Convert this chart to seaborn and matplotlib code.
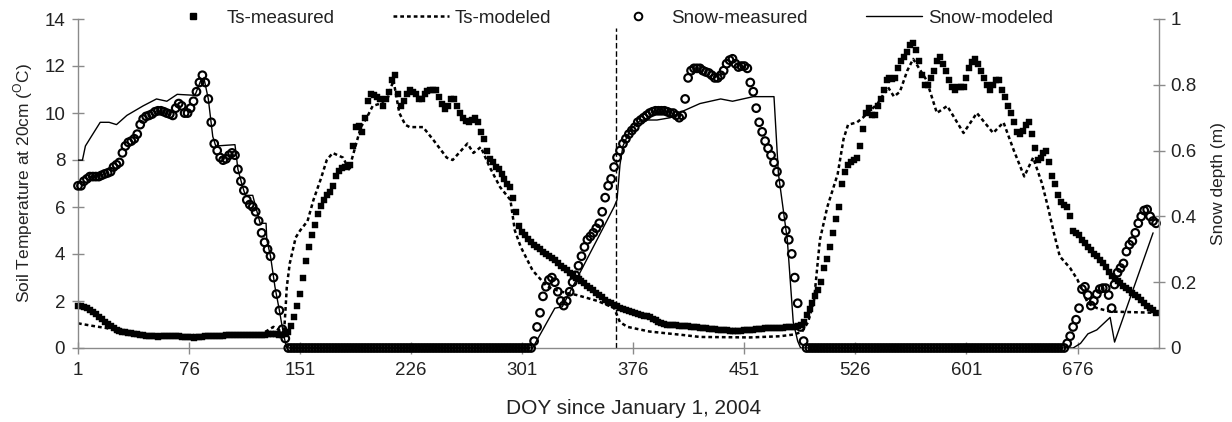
import numpy as np
import pandas as pd
import matplotlib
matplotlib.use("Agg")
import matplotlib.pyplot as plt
from matplotlib.lines import Line2D
from matplotlib import ticker
import seaborn as sns

sns.set_style("white")
plt.rcParams['font.family'] = ['Liberation Sans', 'DejaVu Sans']
plt.rcParams['mathtext.fontset'] = 'custom'
plt.rcParams['mathtext.rm'] = 'Liberation Sans'

# ---------------- data ----------------
# measured series: sampled every 2 days, DOY 1 ... 729
doy_measured = list(range(1, 730, 2))

ts_measured = [  # soil temperature at 20 cm, degC
    1.80, 1.77, 1.74, 1.70, 1.63, 1.55, 1.45, 1.33, 1.22, 1.12,
    1.03, 0.94, 0.86, 0.78, 0.72, 0.68, 0.66, 0.64, 0.63, 0.61,
    0.59, 0.57, 0.55, 0.53, 0.50, 0.49, 0.49, 0.48, 0.49, 0.51,
    0.52, 0.51, 0.50, 0.50, 0.49, 0.48, 0.47, 0.46, 0.45, 0.44,
    0.45, 0.46, 0.48, 0.49, 0.50, 0.52, 0.53, 0.52, 0.53, 0.53,
    0.54, 0.54, 0.55, 0.55, 0.55, 0.56, 0.56, 0.55, 0.56, 0.56,
    0.56, 0.56, 0.57, 0.57, 0.58, 0.58, 0.58, 0.58, 0.57, 0.55,
    0.58, 0.70, 0.95, 1.30, 1.80, 2.30, 3.00, 3.70, 4.30, 4.80,
    5.25, 5.70, 6.05, 6.30, 6.50, 6.65, 6.90, 7.30, 7.55, 7.65,
    7.70, 7.75, 7.80, 8.60, 9.40, 9.45, 9.20, 9.80, 10.50, 10.80,
    10.75, 10.70, 10.60, 10.30, 10.60, 10.90, 11.40, 11.60, 10.80, 10.30,
    10.50, 10.80, 11.00, 10.90, 10.80, 10.60, 10.60, 10.80, 10.95, 11.00,
    11.00, 11.00, 10.70, 10.40, 10.15, 10.30, 10.60, 10.60, 10.30, 10.00,
    9.80, 9.65, 9.60, 9.70, 9.80, 9.60, 9.20, 8.90, 8.40, 8.05,
    7.90, 7.70, 7.60, 7.40, 7.20, 7.00, 6.85, 6.40, 5.80, 5.20,
    4.95, 4.80, 4.65, 4.50, 4.40, 4.30, 4.20, 4.10, 4.00, 3.90,
    3.85, 3.75, 3.60, 3.50, 3.40, 3.30, 3.20, 3.10, 3.00, 2.93,
    2.85, 2.75, 2.65, 2.55, 2.45, 2.35, 2.25, 2.15, 2.05, 1.97,
    1.90, 1.85, 1.78, 1.72, 1.67, 1.62, 1.58, 1.52, 1.48, 1.45,
    1.42, 1.38, 1.35, 1.30, 1.25, 1.20, 1.12, 1.06, 1.02, 1.00,
    0.99, 0.98, 0.97, 0.95, 0.94, 0.93, 0.92, 0.90, 0.89, 0.88,
    0.86, 0.85, 0.83, 0.82, 0.80, 0.79, 0.78, 0.77, 0.76, 0.75,
    0.74, 0.73, 0.73, 0.74, 0.74, 0.75, 0.76, 0.77, 0.78, 0.80,
    0.81, 0.82, 0.83, 0.84, 0.85, 0.86, 0.86, 0.87, 0.87, 0.88,
    0.89, 0.89, 0.90, 0.92, 0.98, 1.10, 1.40, 1.65, 1.90, 2.20,
    2.45, 2.80, 3.40, 3.80, 4.30, 4.90, 5.50, 6.00, 7.00, 7.50,
    7.80, 7.90, 8.00, 8.10, 8.60, 9.30, 10.00, 10.20, 9.90, 9.90,
    10.30, 10.60, 11.00, 11.40, 11.50, 11.45, 11.50, 11.90, 12.20, 12.40,
    12.60, 12.90, 13.00, 12.70, 12.20, 11.60, 11.20, 11.20, 11.50, 11.80,
    12.20, 12.40, 12.10, 11.80, 11.40, 11.10, 11.00, 11.10, 11.10, 11.10,
    11.50, 11.90, 12.15, 12.30, 12.10, 11.80, 11.50, 11.20, 11.00, 11.20,
    11.40, 11.40, 11.00, 10.70, 10.30, 10.00, 9.60, 9.20, 9.10, 9.25,
    9.50, 9.60, 9.10, 8.50, 8.00, 8.10, 8.30, 8.40, 7.90, 7.30,
    7.00, 6.50, 6.20, 6.10, 6.00, 5.60, 5.00, 4.90, 4.80, 4.60,
    4.45, 4.30, 4.15, 4.00, 3.90, 3.75, 3.60, 3.45, 3.25, 3.05,
    2.95, 2.85, 2.75, 2.65, 2.55, 2.45, 2.35, 2.25, 2.15, 2.05,
    1.90, 1.80, 1.70, 1.60, 1.50,
]

snow_measured = [  # snow depth, m
    0.493, 0.493, 0.507, 0.514, 0.521, 0.521, 0.521, 0.521, 0.525, 0.529,
    0.532, 0.536, 0.550, 0.557, 0.564, 0.593, 0.614, 0.625, 0.629, 0.636,
    0.650, 0.679, 0.696, 0.704, 0.707, 0.711, 0.718, 0.721, 0.721, 0.718,
    0.714, 0.711, 0.707, 0.729, 0.743, 0.736, 0.714, 0.714, 0.729, 0.750,
    0.779, 0.807, 0.829, 0.807, 0.757, 0.686, 0.621, 0.600, 0.579, 0.571,
    0.575, 0.586, 0.593, 0.586, 0.543, 0.507, 0.479, 0.450, 0.436, 0.429,
    0.414, 0.386, 0.350, 0.321, 0.300, 0.279, 0.214, 0.164, 0.114, 0.057,
    0.029, 0, 0, 0, 0, 0, 0, 0, 0, 0,
    0, 0, 0, 0, 0, 0, 0, 0, 0, 0,
    0, 0, 0, 0, 0, 0, 0, 0, 0, 0,
    0, 0, 0, 0, 0, 0, 0, 0, 0, 0,
    0, 0, 0, 0, 0, 0, 0, 0, 0, 0,
    0, 0, 0, 0, 0, 0, 0, 0, 0, 0,
    0, 0, 0, 0, 0, 0, 0, 0, 0, 0,
    0, 0, 0, 0, 0, 0, 0, 0, 0, 0,
    0, 0, 0, 0, 0.021, 0.064, 0.107, 0.157, 0.186, 0.207,
    0.214, 0.200, 0.171, 0.143, 0.129, 0.143, 0.171, 0.200, 0.221, 0.250,
    0.279, 0.307, 0.329, 0.339, 0.350, 0.364, 0.379, 0.414, 0.457, 0.493,
    0.514, 0.550, 0.579, 0.600, 0.621, 0.636, 0.650, 0.661, 0.671, 0.686,
    0.693, 0.700, 0.707, 0.714, 0.718, 0.721, 0.721, 0.721, 0.721, 0.718,
    0.714, 0.714, 0.707, 0.700, 0.707, 0.757, 0.821, 0.843, 0.850, 0.850,
    0.850, 0.843, 0.839, 0.836, 0.829, 0.821, 0.821, 0.829, 0.843, 0.864,
    0.875, 0.879, 0.864, 0.854, 0.857, 0.857, 0.850, 0.807, 0.779, 0.729,
    0.686, 0.657, 0.629, 0.607, 0.586, 0.564, 0.536, 0.500, 0.400, 0.357,
    0.329, 0.286, 0.214, 0.136, 0.064, 0.021, 0, 0, 0, 0,
    0, 0, 0, 0, 0, 0, 0, 0, 0, 0,
    0, 0, 0, 0, 0, 0, 0, 0, 0, 0,
    0, 0, 0, 0, 0, 0, 0, 0, 0, 0,
    0, 0, 0, 0, 0, 0, 0, 0, 0, 0,
    0, 0, 0, 0, 0, 0, 0, 0, 0, 0,
    0, 0, 0, 0, 0, 0, 0, 0, 0, 0,
    0, 0, 0, 0, 0, 0, 0, 0, 0, 0,
    0, 0, 0, 0, 0, 0, 0, 0, 0, 0,
    0, 0, 0, 0, 0.014, 0.036, 0.064, 0.086, 0.121, 0.179,
    0.186, 0.161, 0.129, 0.143, 0.164, 0.179, 0.182, 0.182, 0.161, 0.121,
    0.193, 0.229, 0.243, 0.257, 0.293, 0.314, 0.325, 0.350, 0.379, 0.400,
    0.418, 0.421, 0.400, 0.386, 0.379,
]

# modeled soil temperature (degC)
ts_mod_doy = [1, 10, 20, 28, 35, 45, 60, 80, 100, 120,
              126, 133, 137, 140, 141, 142, 144, 148, 151, 156,
              160, 165, 169, 173, 180, 184, 188, 192, 196, 200,
              205, 210, 214, 218, 222, 225, 234, 241, 250, 254,
              264, 268, 273, 279, 286, 293, 296, 300, 308, 318,
              327, 338, 352, 363, 367, 372, 387, 410, 421, 455,
              475, 485, 490, 494, 498, 502, 507, 514, 518, 521,
              527, 531, 541, 548, 552, 556, 561, 565, 574, 581,
              588, 599, 608, 619, 626, 633, 640, 646, 652, 656,
              660, 664, 671, 676, 683, 689, 698, 728]
ts_modeled = [1.05, 0.95, 0.85, 0.72, 0.62, 0.55, 0.50, 0.47, 0.53, 0.60,
              0.63, 0.90, 0.75, 0.55, 1.50, 2.60, 3.60, 4.70, 5.00, 5.40,
              6.30, 7.20, 8.00, 8.30, 8.10, 7.60, 8.50, 9.40, 9.80, 10.30,
              10.40, 10.60, 11.40, 10.00, 9.50, 9.40, 9.40, 8.85, 8.10, 8.00,
              8.70, 8.30, 8.55, 7.70, 6.85, 6.30, 5.00, 4.30, 3.30, 2.60,
              2.40, 2.25, 2.00, 1.70, 1.10, 0.90, 0.70, 0.55, 0.47, 0.45,
              0.50, 0.58, 0.70, 1.10, 2.00, 4.60, 6.00, 7.40, 8.90, 9.50,
              9.60, 9.80, 10.40, 11.10, 10.70, 10.90, 11.80, 12.30, 11.40, 10.00,
              10.30, 9.15, 10.00, 9.15, 9.60, 8.40, 7.30, 8.10, 7.00, 6.00,
              4.90, 3.90, 3.40, 2.90, 1.90, 1.70, 1.55, 1.50]

# modeled snow depth (m)
snow_mod_doy = [1, 4, 6, 10, 16, 22, 27, 34, 45, 54,
                61, 68, 80, 84, 86, 89, 92, 94, 107, 109,
                112, 114, 119, 121, 124, 128, 128.5, 131, 134, 137,
                140, 142, 308, 323, 328, 363, 365, 367, 369, 374,
                381, 392, 401, 410, 421, 435, 443, 457, 471, 474,
                480, 484, 487, 489, 673, 678, 683, 689, 698, 701,
                727]
snow_modeled = [0.571, 0.571, 0.614, 0.643, 0.686, 0.686, 0.679, 0.707, 0.736, 0.757,
                0.750, 0.771, 0.768, 0.814, 0.821, 0.757, 0.643, 0.614, 0.618, 0.543,
                0.493, 0.464, 0.464, 0.429, 0.379, 0.379, 0.329, 0.279, 0.186, 0.114,
                0.036, 0.0, 0.0, 0.121, 0.125, 0.429, 0.450, 0.557, 0.614, 0.664,
                0.693, 0.693, 0.700, 0.721, 0.743, 0.757, 0.750, 0.764, 0.764, 0.529,
                0.329, 0.079, 0.021, 0.0, 0.0, 0.014, 0.043, 0.055, 0.093, 0.018,
                0.350]

year_break_doy = 364
x_ticks = [1, 76, 151, 226, 301, 376, 451, 526, 601, 676]
left_ticks = [0, 2, 4, 6, 8, 10, 12, 14]
right_ticks = [0, 0.2, 0.4, 0.6, 0.8, 1.0]
legend_labels = ["Ts-measured", "Ts-modeled", "Snow-measured", "Snow-modeled"]

# ---------------- figure ----------------
W, H = 1232, 422
fig = plt.figure(figsize=(W / 100, H / 100), dpi=100)
ax = fig.add_axes([78 / W, 1 - 348 / H, (1159 - 78) / W, (348 - 19) / H])
ax2 = ax.twinx()

ts_dash = (0, (1.5, 1.2))

sns.lineplot(x=ts_mod_doy, y=ts_modeled, ax=ax, color='black', lw=1.8,
             linestyle=ts_dash, sort=False)
sns.scatterplot(x=doy_measured, y=ts_measured, ax=ax, marker='s', s=15,
                color='black', edgecolor='black', linewidth=0.3, clip_on=False)
ax.axvline(year_break_doy, ymin=0, ymax=0.972, color='black', lw=1.0,
           linestyle=(0, (4, 2)))

sns.lineplot(x=snow_mod_doy, y=snow_modeled, ax=ax2, color='black', lw=1.0,
             sort=False)
sns.scatterplot(x=doy_measured, y=snow_measured, ax=ax2, marker='o', s=30,
                facecolor='none', edgecolor='black', linewidth=1.55, clip_on=False)

ax.set_xlim(1, 731)
ax.set_ylim(0, 14)
ax2.set_ylim(0, 1)
ax.set_xticks(x_ticks)
ax.set_yticks(left_ticks)
ax2.set_yticks(right_ticks)
ax2.yaxis.set_major_formatter(ticker.FormatStrFormatter('%g'))

grey = '#8a8a8a'
for s in ['top', 'right']:
    ax.spines[s].set_visible(False)
for s in ['top', 'left', 'bottom']:
    ax2.spines[s].set_visible(False)
for a, sides in [(ax, ['left', 'bottom']), (ax2, ['right'])]:
    for s in sides:
        a.spines[s].set_color(grey)
        a.spines[s].set_linewidth(1.0)

ax.tick_params(axis='x', direction='inout', length=8.5, width=1.0, color=grey,
               labelsize=13.5, labelcolor='#222222', pad=6, bottom=True, top=False)
ax.tick_params(axis='y', direction='inout', length=8.5, width=1.0, color=grey,
               labelsize=13.5, labelcolor='#222222', pad=5, left=True, right=False)
ax2.tick_params(axis='y', direction='inout', length=8.5, width=1.0, color=grey,
                labelsize=13.5, labelcolor='#222222', pad=4, right=True, left=False)

ax.set_xlabel('DOY since January 1, 2004', fontsize=15, color='#222222')
ax.xaxis.set_label_coords(0.514, -0.155)
ax.set_ylabel(r'Soil Temperature at 20cm ($^{\mathrm{O}}$C)', fontsize=12.5,
              color='#222222', labelpad=7)
ax2.set_ylabel('Snow depth (m)', fontsize=12.5, color='#222222', labelpad=10)
ax.grid(False)
ax2.grid(False)

handles = [
    Line2D([], [], marker='s', linestyle='', color='black', markersize=4),
    Line2D([], [], color='black', lw=1.8, linestyle=ts_dash),
    Line2D([], [], marker='o', linestyle='', markerfacecolor='none',
           markeredgecolor='black', markeredgewidth=1.4, markersize=5.5),
    Line2D([], [], color='black', lw=1.0),
]
fig.legend(handles, legend_labels, loc='center', ncol=4, frameon=False,
           bbox_to_anchor=(609 / W, 1 - 18 / H), fontsize=13.5,
           handlelength=3.0, handletextpad=0.3, columnspacing=3.1,
           labelcolor='#222222')

fig.savefig('out.png', dpi=100)
